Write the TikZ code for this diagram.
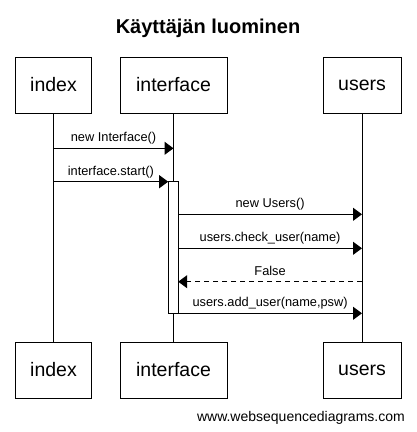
\documentclass[tikz,border=0pt]{standalone}
\usepackage{fontspec}
\setmainfont{Liberation Sans}
\usetikzlibrary{arrows.meta}
\begin{document}
\begin{tikzpicture}[x=1pt,y=-1pt,
  actor/.style={draw,line width=1pt,minimum height=56pt,inner sep=0pt,font=\fontsize{19.5}{22}\selectfont},
  life/.style={line width=1pt},
  msg/.style={line width=1pt,-{Triangle[length=9pt,width=13pt]}},
  ret/.style={msg,dash pattern=on 5pt off 4pt},
  lbl/.style={font=\fontsize{12.8}{15}\selectfont,anchor=base,inner sep=0pt},
  act/.style={draw,fill=white,line width=1pt,minimum width=10pt,minimum height=131.6pt,inner sep=0pt}]
\useasboundingbox (0,0) rectangle (416,432);
\node[font=\bfseries\fontsize{20}{24}\selectfont,anchor=base,inner sep=0pt] (title) at (208,33.3) {Käyttäjän luominen};
% top actors
\node[actor,minimum width=76pt] (iT) at (53.5,85) {index};
\node[actor,minimum width=107pt] (fT) at (173.5,85) {interface};
\node[actor,minimum width=78pt] (uT) at (362,85) {users};
% bottom actors
\node[actor,minimum width=76pt] (iB) at (53.5,370) {index};
\node[actor,minimum width=107pt] (fB) at (173.5,370) {interface};
\node[actor,minimum width=78pt] (uB) at (362,370) {users};
% lifelines
\draw[life] (iT.south) -- (iB.north);
\draw[life] (fT.south) -- (fB.north);
\draw[life] (uT.south) -- (uB.north);
% activation
\node[act] (actb) at (173.2,247.5) {};
% message endpoints
\coordinate (m1a) at (53.5,148.3);
\coordinate (m1b) at (173.5,148.3);
\coordinate (m2a) at (53.5,181.7);
\coordinate (m2b) at (168.2,181.7);
\coordinate (m3a) at (178.2,214.3);
\coordinate (m3b) at (362,214.3);
\coordinate (m4a) at (178.2,248.3);
\coordinate (m4b) at (362,248.3);
\coordinate (m5a) at (362,281.7);
\coordinate (m5b) at (178.2,281.7);
\coordinate (m6a) at (178.2,313.3);
\coordinate (m6b) at (362,313.3);
\draw[msg] (m1a) -- (m1b) node[lbl,midway,yshift=6.5pt] (l1) {new Interface()};
\draw[msg] (m2a) -- (m2b) node[lbl,midway,yshift=6.5pt] (l2) {interface.start()};
\draw[msg] (m3a) -- (m3b) node[lbl,midway,yshift=6.5pt] (l3) {new Users()};
\draw[msg] (m4a) -- (m4b) node[lbl,midway,yshift=6.5pt] (l4) {users.check\_user(name)};
\draw[ret] (m5a) -- (m5b) node[lbl,midway,yshift=6.5pt] (l5) {False};
\draw[msg] (m6a) -- (m6b) node[lbl,midway,yshift=6.5pt] (l6) {users.add\_user(name,psw)};
\node[font=\fontsize{14}{16}\selectfont,anchor=base east,inner sep=0pt] (foot) at (405,421) {www.websequencediagrams.com};
\end{tikzpicture}
\end{document}
